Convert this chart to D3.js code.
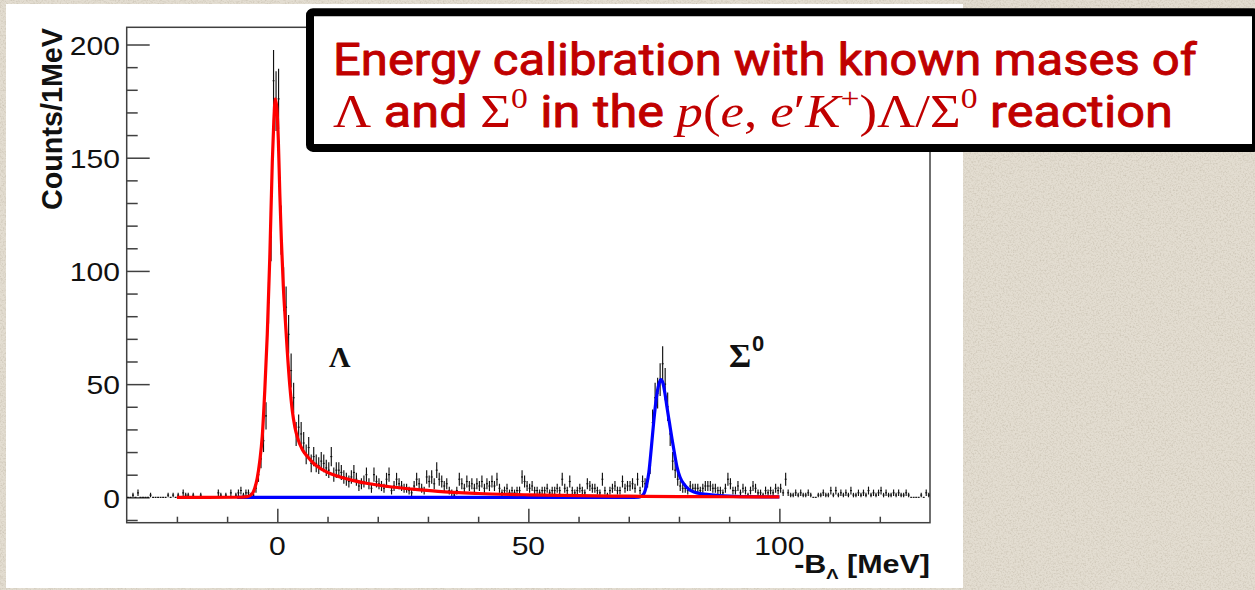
<!DOCTYPE html>
<html>
<head>
<meta charset="utf-8">
<script src="https://cdn.jsdelivr.net/npm/d3@7"></script>
<style>
  html, body { margin: 0; padding: 0; background: #e3ddd1; }
  svg { display: block; }
</style>
</head>
<body>
<svg id="chart" width="1255" height="590"></svg>
<script>
// Histogram: -B_Lambda spectrum, 0.5 MeV bins starting at -30 MeV
const binStart = -30;
const binWidth = 0.5;

// counts per bin, one row per 10 MeV
const cnt_m30 = [0,0,1,0,2,0,0,0,0,1, 0,0,0,0,0,0,1,0,1,0];
const cnt_m20 = [1,0,2,1,1,0,1,0,0,1, 0,0,0,0,0,0,2,1,0,1];
const cnt_m10 = [0,2,0,1,2,3,1,2,2,1, 1,4,10,17,25,36,86,115,184,175];
const cnt_0   = [176,118,92,84,72,56,44,28,31,28, 24,19,22,15,18,15,14,16,15,13];
const cnt_10  = [12,18,10,12,12,11,9,8,7,9, 11,8,5,6,7,10,6,4,10,7];
const cnt_20  = [6,5,4,8,10,3,5,8,6,5, 4,4,3,2,5,8,6,4,3,9];
const cnt_30  = [7,9,6,12,8,7,5,6,3,2, 1,3,8,6,4,7,5,6,4,6];
const cnt_40  = [5,7,4,6,5,7,5,8,4,2, 3,4,2,3,2,3,3,9,7,5];
const cnt_50  = [4,5,3,3,2,3,3,4,2,3, 3,4,3,8,4,3,7,3,2,3];
const cnt_60  = [4,3,2,6,5,4,4,3,2,8, 3,1,3,4,5,3,3,7,4,5];
const cnt_70  = [5,6,4,8,3,7,6,7,14,33, 44,46,52,59,50,40,28,16,12,8];
const cnt_80  = [5,4,4,3,5,4,4,4,3,4, 5,5,5,4,4,3,3,2,4,8];
const cnt_90  = [6,3,3,5,2,4,3,1,3,5, 4,2,2,1,3,2,3,2,4,3];
const cnt_100 = [4,2,8,2,1,1,2,1,2,1, 1,2,1,0,0,1,1,2,1,1];
const cnt_110 = [3,1,3,1,2,1,2,1,3,1, 1,2,1,2,1,3,1,2,1,2];
const cnt_120 = [3,1,2,1,1,2,1,2,1,1, 2,1,0,0,0,0,1,0,2,1];

const counts = [].concat(cnt_m30, cnt_m20, cnt_m10, cnt_0, cnt_10, cnt_20, cnt_30, cnt_40,
                         cnt_50, cnt_60, cnt_70, cnt_80, cnt_90, cnt_100, cnt_110, cnt_120);

// fitted Lambda response (MeV, counts)
const fitLambda = [
  [-20,0.02],[-8,0.05],[-6,0.3],[-5,1.6],[-4.5,4],[-4,8.5],[-3.5,16],[-3,27],[-2.5,47],
  [-2,72],[-1.5,106],[-1,148],[-0.7,166],[-0.4,176],[-0.1,172],[0.2,158],[0.5,134],
  [0.8,114],[1.2,93],[1.6,78],[2,64],[2.5,49],[3,38],[3.5,31],[4,26.5],[5,21],[6,18],
  [7,15.5],[8,13.6],[10,11],[12.5,9],[15,7.5],[18,6.1],[22,4.8],[27,3.6],[32,2.6],
  [40,1.7],[50,1.1],[60,0.75],[70,0.5],[80,0.35],[90,0.25],[100,0.2]
];
// fitted Sigma0 response (MeV, counts)
const fitSigma = [
  [-8,0],[70,0],[72,0.1],[72.6,0.6],[73.1,2],[73.5,5],[74,11],[74.5,22],[75,34],[75.5,44],
  [76,50],[76.4,52],[76.8,50.5],[77.2,46],[77.6,40],[78.1,33],[78.6,26],[79.1,19.5],
  [79.6,13.5],[80.2,9],[81,5.8],[82,3.5],[83,2.4],[84.5,1.6],[86,1.2],[88,0.8],[90,0.55],
  [94,0.3],[100,0.18]
];

// axis ticks
const xMajor = [0, 50, 100];
const xMinor = [-20, -10, 10, 20, 30, 40, 60, 70, 80, 90, 110, 120];
const yMajor = [0, 50, 100, 150, 200];
const yMinor = [-10, 10, 20, 30, 40, 60, 70, 80, 90, 110, 120, 130, 140, 160, 170, 180, 190];
const xTickLabels = ["0", "50", "100"];
const yTickLabels = ["0", "50", "100", "150", "200"];

const svg = d3.select("#chart");
const W = 1255, H = 590;

// ---------- backdrop ----------
const defs = svg.append("defs");
const grain = defs.append("filter").attr("id", "grain")
  .attr("x", 0).attr("y", 0).attr("width", "100%").attr("height", "100%");
grain.append("feTurbulence").attr("type", "fractalNoise").attr("baseFrequency", 0.6)
  .attr("numOctaves", 3).attr("seed", 7).attr("result", "n");
grain.append("feColorMatrix").attr("in", "n").attr("type", "matrix")
  .attr("values", "0 0 0 0 0.42  0 0 0 0 0.37  0 0 0 0 0.28  1.4 0 0 0 -0.6");

svg.append("rect").attr("width", W).attr("height", H).attr("fill", "#e3ddd1");
svg.append("rect").attr("width", W).attr("height", H).attr("filter", "url(#grain)").attr("opacity", 0.6);

// white panel holding the plot
svg.append("rect").attr("x", 6).attr("y", 4).attr("width", 957).attr("height", 584).attr("fill", "#ffffff");

// ---------- plot frame ----------
const frame = { left: 126.7, right: 930, top: 27.3, bottom: 522.7 };
const x = d3.scaleLinear().domain([-30, 130]).range([frame.left, frame.right]);
const y = d3.scaleLinear().domain([-11.2, 207.6]).range([frame.bottom, frame.top]);

defs.append("clipPath").attr("id", "plotClip").append("rect")
  .attr("x", frame.left).attr("y", frame.top)
  .attr("width", frame.right - frame.left).attr("height", frame.bottom - frame.top);

const axisColor = "#404040";

// ticks (drawn inward like ROOT)
function styleAxis(g) {
  g.select(".domain").remove();
  g.selectAll(".tick line").attr("stroke", axisColor).attr("stroke-width", 1.5);
  g.selectAll(".tick text").remove();
}
svg.append("g").attr("transform", `translate(${frame.left},0)`)
  .call(d3.axisRight(y).tickValues(yMajor).tickSize(23).tickFormat("")).call(styleAxis);
svg.append("g").attr("transform", `translate(${frame.left},0)`)
  .call(d3.axisRight(y).tickValues(yMinor).tickSize(11).tickFormat("")).call(styleAxis);
svg.append("g").attr("transform", `translate(0,${frame.bottom})`)
  .call(d3.axisTop(x).tickValues(xMajor).tickSize(14).tickFormat("")).call(styleAxis);
svg.append("g").attr("transform", `translate(0,${frame.bottom})`)
  .call(d3.axisTop(x).tickValues(xMinor).tickSize(6).tickFormat("")).call(styleAxis);

svg.append("rect")
  .attr("x", frame.left).attr("y", frame.top)
  .attr("width", frame.right - frame.left).attr("height", frame.bottom - frame.top)
  .attr("fill", "none").attr("stroke", axisColor).attr("stroke-width", 1.5);

// tick labels (slightly wide Helvetica look)
const labelFont = "'Liberation Sans', Arial, sans-serif";
yMajor.forEach((v, i) => {
  svg.append("g").attr("transform", `translate(120,${y(v) + 10.3}) scale(1.18,1)`)
    .append("text").attr("text-anchor", "end")
    .attr("font-family", labelFont).attr("font-size", 25.5).attr("fill", "#111")
    .text(yTickLabels[i]);
});
xMajor.forEach((v, i) => {
  svg.append("g").attr("transform", `translate(${x(v)},555) scale(1.18,1)`)
    .append("text").attr("text-anchor", "middle")
    .attr("font-family", labelFont).attr("font-size", 25.5).attr("fill", "#111")
    .text(xTickLabels[i]);
});

// axis titles
svg.append("text")
  .attr("transform", "translate(62,28) rotate(-90)")
  .attr("text-anchor", "end")
  .attr("font-family", labelFont).attr("font-weight", "bold").attr("font-size", 29)
  .attr("textLength", 182).attr("lengthAdjust", "spacingAndGlyphs")
  .attr("fill", "#111")
  .text("Counts/1MeV");

const xTitle = svg.append("g").attr("transform", "translate(930,573) scale(1.22,1)")
  .append("text").attr("text-anchor", "end")
  .attr("font-family", labelFont).attr("font-weight", "bold").attr("font-size", 25).attr("fill", "#111");
xTitle.append("tspan").text("-B");
xTitle.append("tspan").attr("dy", 6).attr("font-size", 15).text("Λ");
xTitle.append("tspan").attr("dy", -6).text(" [MeV]");

// ---------- data & fits ----------
const plot = svg.append("g").attr("clip-path", "url(#plotClip)");

const bins = counts.map((c, i) => ({
  lo: binStart + i * binWidth,
  hi: binStart + (i + 1) * binWidth,
  mid: binStart + (i + 0.5) * binWidth,
  n: c
}));

const pts = plot.append("g").attr("stroke", "#111").attr("stroke-width", 1.15).attr("fill", "none");
pts.selectAll("line.h").data(bins).join("line").attr("class", "h")
  .attr("x1", d => x(d.lo) + 0.3).attr("x2", d => x(d.hi) - 0.3)
  .attr("y1", d => y(d.n)).attr("y2", d => y(d.n));
pts.selectAll("line.v").data(bins.filter(d => d.n > 0)).join("line").attr("class", "v")
  .attr("x1", d => x(d.mid)).attr("x2", d => x(d.mid))
  .attr("y1", d => y(d.n - Math.sqrt(d.n))).attr("y2", d => y(d.n + Math.sqrt(d.n)));

const fitLine = d3.line().x(d => x(d[0])).y(d => y(d[1])).curve(d3.curveMonotoneX);
plot.append("path").datum(fitSigma).attr("d", fitLine)
  .attr("fill", "none").attr("stroke", "#0000ff").attr("stroke-width", 3.2).attr("stroke-linejoin", "round");
plot.append("path").datum(fitLambda).attr("d", fitLine)
  .attr("fill", "none").attr("stroke", "#ff0000").attr("stroke-width", 3.2).attr("stroke-linejoin", "round");

// peak labels
const serif = "'Liberation Serif', 'Times New Roman', serif";
svg.append("text").attr("x", 329).attr("y", 367)
  .attr("font-family", serif).attr("font-weight", "bold").attr("font-size", 30).attr("fill", "#111")
  .text("Λ");
svg.append("text").attr("x", 729).attr("y", 367)
  .attr("font-family", serif).attr("font-weight", "bold").attr("font-size", 34).attr("fill", "#111")
  .text("Σ");
svg.append("text").attr("x", 752).attr("y", 351)
  .attr("font-family", labelFont).attr("font-weight", "bold").attr("font-size", 22).attr("fill", "#111")
  .text("0");

// ---------- caption box ----------
svg.append("rect").attr("x", 310).attr("y", 12.3).attr("width", 946).attr("height", 135.6)
  .attr("rx", 3).attr("fill", "#ffffff").attr("stroke", "#000").attr("stroke-width", 8);

const red = "#c00000";
const sans = "Roboto, 'Open Sans', sans-serif";

// medium-weight look: regular face with a thin outline of the same colour
const l1g = svg.append("g");
const l1 = l1g.append("text").attr("x", 0).attr("y", 0)
  .attr("font-family", sans).attr("font-weight", 400).attr("font-size", 45).attr("fill", red)
  .attr("stroke", red).attr("stroke-width", 0.9).attr("stroke-linejoin", "round")
  .text("Energy calibration with known mases of");
const w1 = l1.node().getComputedTextLength();
l1g.attr("transform", `translate(333,75) scale(${864 / w1},1)`);

const l2g = svg.append("g");
const l2 = l2g.append("text").attr("x", 0).attr("y", 0)
  .attr("font-family", sans).attr("font-weight", 400).attr("font-size", 45).attr("fill", red);
const parts = [
  { t: "Λ", f: serif, s: 47 },
  { t: " and ", f: sans, bold: true },
  { t: "Σ", f: serif, s: 47 },
  { t: "0", f: serif, s: 30, up: 19 },
  { t: " in the ", f: sans, bold: true },
  { t: "p", f: serif, s: 47, it: true },
  { t: "(", f: serif, s: 47 },
  { t: "e", f: serif, s: 47, it: true },
  { t: ", ", f: serif, s: 47 },
  { t: "e", f: serif, s: 47, it: true },
  { t: "′", f: serif, s: 47 },
  { t: "K", f: serif, s: 47, it: true },
  { t: "+", f: serif, s: 30, up: 19 },
  { t: ")Λ/Σ", f: serif, s: 47 },
  { t: "0", f: serif, s: 30, up: 19 },
  { t: " reaction", f: sans, bold: true }
];
let raised = 0;
parts.forEach(p => {
  const ts = l2.append("tspan").attr("font-family", p.f).text(p.t);
  if (p.s) ts.attr("font-size", p.s);
  if (p.it) ts.attr("font-style", "italic");
  if (p.bold) ts.attr("stroke", red).attr("stroke-width", 0.9).attr("stroke-linejoin", "round");
  const target = p.up ? -p.up : 0;
  if (target !== raised) { ts.attr("dy", target - raised); raised = target; }
});
const w2 = l2.node().getComputedTextLength();
l2g.attr("transform", `translate(333,127) scale(${840 / w2},1)`);
</script>
</body>
</html>
